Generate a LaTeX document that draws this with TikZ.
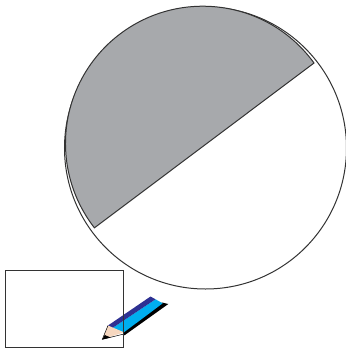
\documentclass[tikz,border=0pt]{standalone}
\definecolor{segGray}{HTML}{A7A9AC}
\definecolor{lineInk}{HTML}{333333}
\definecolor{penDark}{HTML}{2E3192}
\definecolor{penCyan}{HTML}{00AEEF}
\definecolor{penWood}{HTML}{F6D7BF}
\tikzset{outline/.style={draw=lineInk,line width=1bp}}
\begin{document}
\begin{tikzpicture}[x=1bp,y=-1bp]
\useasboundingbox (0,0) rectangle (346,349);
% big circle
\draw[outline] (205.5,148) circle[radius=141bp];
% grey segment
\begin{scope}[y=1bp,yshift=-349bp]
\draw[outline,fill=segGray] (314,286) arc[start angle=35.9,end angle=217.9,radius=137.3bp] -- cycle;
\end{scope}
% pencil
\fill[black] (122.5,331) -- (124.5,335.3) -- (168.3,304) -- (162,302.5) -- cycle;
\fill[penCyan] (111.7,328.5) -- (155.5,299.3) -- (162.7,303.3) -- (124,332.3) -- cycle;
\fill[penDark] (108,325.5) -- (150.5,296.5) -- (155.5,299.3) -- (111.7,328.5) -- cycle;
\fill[penWood] (108,325.5) -- (124,332.3) -- (102.3,339.3) -- cycle;
\draw[black,line width=0.5bp] (108,325.5) -- (102.3,339.3) -- (124,334);
\fill[black] (102.3,339.5) -- (104.7,335) -- (110.7,337.5) -- cycle;
% paper
\draw[outline] (5,270.3) rectangle (123.5,347.3);
\end{tikzpicture}
\end{document}
